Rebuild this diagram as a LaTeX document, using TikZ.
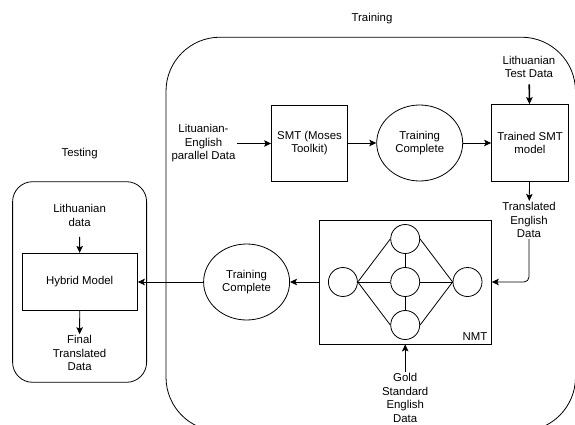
\documentclass[tikz,border=0pt]{standalone}
\usepackage{fontspec}
\setmainfont{Liberation Sans}
\usetikzlibrary{arrows.meta}
\usetikzlibrary{shapes.geometric}
\tikzset{box/.style={draw, inner sep=0pt, align=center},
  oval/.style={ellipse, draw, inner sep=0pt, align=center, minimum width=86pt, minimum height=76pt},
  group/.style={draw, inner sep=0pt},
  unit/.style={circle, draw, inner sep=0pt, minimum size=29pt},
  lbl/.style={align=center, inner sep=1pt},
  arr/.style={-{Stealth[length=7pt, width=6.5pt, inset=1.5pt]}}}

\begin{document}
\begin{tikzpicture}[x=1pt, y=-1pt, line width=0.8pt, font=\fontsize{11.4}{13.5}\selectfont]
\useasboundingbox (0,0) rectangle (575,425);

% the two groups
\node[group, rounded corners=54pt, minimum width=409.5pt, minimum height=394pt] (trainbox) at (370.75,234.2) {};
\node (traininglbl) at (372,19) {Training};
\node[group, rounded corners=20pt, minimum width=134pt, minimum height=200.6pt] (testbox) at (79.6,282) {};
\node (testinglbl) at (79.6,153.3) {Testing};

% SMT row
\node[box, minimum size=76pt] (smt) at (309.5,143) {SMT (Moses\\Toolkit)};
\node[oval] (done1) at (419.7,143) {Training\\Complete};
\node[box, minimum size=77pt] (trained) at (530,143) {Trained SMT\\model};
\node[lbl] (parallel) at (203.5,143.5) {Lituanian-\\English\\parallel Data};
\node[lbl] (testdata) at (529,67) {Lithuanian\\Test Data};
\node[lbl] (transl) at (529,220) {Translated\\English\\Data};

% NMT box with its little network
\node[box, minimum width=172.4pt, minimum height=124pt] (nmt) at (405.2,282) {};
\node[anchor=south east, inner sep=4pt] (nmtlbl) at (nmt.south east) {NMT};
\node[unit] (c1) at (342.9,282) {};
\node[unit] (c2) at (405.2,239) {};
\node[unit] (c3) at (405.2,282) {};
\node[unit] (c4) at (405.2,325) {};
\node[unit] (c5) at (467.5,282) {};
\node[lbl] (gold) at (405.2,398) {Gold\\Standard\\English\\Data};

% testing side
\node[oval] (done2) at (246.6,282) {Training\\Complete};
\node[box, minimum width=115.5pt, minimum height=57.4pt] (hybrid) at (79.7,282) {Hybrid Model};
\node[lbl] (lithdata) at (79.6,215.5) {Lithuanian\\data};
\node[lbl] (final) at (79.6,353.3) {Final\\Translated\\Data};

\draw (c1.east) -- (c2.west);
\draw (c1.east) -- (c3.west);
\draw (c1.east) -- (c4.west);
\draw (c2.east) -- (c5.west);
\draw (c3.east) -- (c5.west);
\draw (c4.east) -- (c5.west);
\draw (c2) -- (c3);
\draw (c3) -- (c4);

\draw[arr] (parallel.east) -- (parallel.east -| smt.west);
\draw[arr] (smt) -- (done1);
\draw[arr] (done1) -- (trained);
\draw[arr, line width=1.6pt, shorten <=5pt] (testdata) -- (trained);
\draw[arr] (trained) -- (transl);
\draw[arr, rounded corners=5pt] (transl.south) |- (nmt.east);
\draw[arr] (gold) -- (nmt);
\draw[arr] (nmt) -- (done2);
\draw[arr] (done2) -- (hybrid);
\draw[arr, shorten <=9pt] (lithdata) -- (hybrid);
\draw[arr] (hybrid) -- (final);

\end{tikzpicture}
\end{document}
